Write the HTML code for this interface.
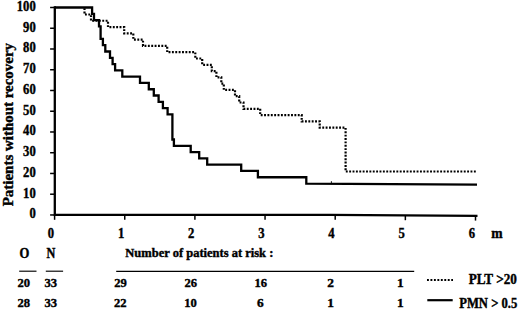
<!DOCTYPE html>
<html><head><meta charset="utf-8"><style>
html,body{margin:0;padding:0;background:#fff;width:520px;height:309px;overflow:hidden}
svg{display:block}
text{font-family:"Liberation Serif",serif;font-weight:bold;font-size:13px;fill:#000;stroke:#000;stroke-width:0.4px}
</style></head><body>
<svg width="520" height="309" viewBox="0 0 520 309">
<g stroke="#000" stroke-width="1.5" fill="none"><line x1="50.1" y1="214.96" x2="55" y2="214.96"/><line x1="50.1" y1="194.21" x2="55" y2="194.21"/><line x1="50.1" y1="173.47" x2="55" y2="173.47"/><line x1="50.1" y1="152.72" x2="55" y2="152.72"/><line x1="50.1" y1="131.98" x2="55" y2="131.98"/><line x1="50.1" y1="111.23" x2="55" y2="111.23"/><line x1="50.1" y1="90.48" x2="55" y2="90.48"/><line x1="50.1" y1="69.74" x2="55" y2="69.74"/><line x1="50.1" y1="48.99" x2="55" y2="48.99"/><line x1="50.1" y1="28.25" x2="55" y2="28.25"/><line x1="50.1" y1="7.50" x2="55" y2="7.50"/><line x1="54.60" y1="215" x2="54.60" y2="219.80"/><line x1="124.75" y1="215" x2="124.75" y2="219.80"/><line x1="194.90" y1="215" x2="194.90" y2="219.80"/><line x1="265.05" y1="215" x2="265.05" y2="219.80"/><line x1="335.20" y1="215" x2="335.20" y2="219.83"/><line x1="405.35" y1="215" x2="405.35" y2="220.21"/><line x1="475.50" y1="215" x2="475.50" y2="220.59"/></g>
<path d="M54.8 6.3 V216.1 M53.6 214.96 L330 214.96 L477.5 215.9" stroke="#000" stroke-width="2.3" fill="none"/>
<path d="M54.60 7.50 H92.10 V13.79 H94.00 V20.07 H99.00 V26.36 H100.60 V38.93 H102.90 V45.22 H105.30 V51.51 H110.00 V57.79 H112.60 V64.08 H115.10 V70.37 H122.30 V76.65 H140.00 V82.94 H148.80 V89.23 H153.80 V95.51 H158.60 V101.80 H162.90 V108.09 H167.60 V114.37 H172.40 V139.52 H173.90 V145.81 H190.70 V152.09 H199.20 V158.38 H207.20 V164.67 H241.20 V170.95 H257.90 V177.24 H306.30 V183.53 L477 184.6" stroke="#000" stroke-width="2.3" fill="none"/>
<path d="M84.50 8.20 H84.50 V14.49 H91.00 V20.77 H108.00 V27.06 H124.20 V33.35 H133.30 V39.63 H143.00 V45.92 H167.20 V52.21 H195.30 V58.49 H202.20 V64.78 H211.80 V71.07 H216.40 V77.35 H221.30 V83.64 H223.80 V89.93 H235.00 V96.21 H239.20 V102.50 H243.50 V108.79 H260.20 V115.07 H301.70 V121.36 H319.70 V127.65 H345.60 V171.50 H476.50" stroke="#000" stroke-width="2.2" fill="none" stroke-dasharray="1.9 1.47"/>
<line x1="331.4" y1="181.2" x2="331.4" y2="184" stroke="#000" stroke-width="0.9"/>
<g stroke="#000" stroke-width="1.15" fill="none">
<line x1="19.2" y1="271.2" x2="36.5" y2="271.2"/>
<line x1="45.8" y1="271.2" x2="63.1" y2="271.2"/>
<line x1="116.2" y1="271.3" x2="414.2" y2="271.3"/>
</g>
<line x1="427" y1="280" x2="453" y2="280" stroke="#000" stroke-width="2.2" stroke-dasharray="1.9 1.56"/>
<line x1="427.3" y1="300.2" x2="452.7" y2="300.2" stroke="#000" stroke-width="2.2"/>
<text transform="matrix(0.930 0 0 1 35.70 0)" x="0" y="218.46" text-anchor="end" style="font-size:13.60px">0</text><text transform="matrix(0.930 0 0 1 35.70 0)" x="0" y="197.71" text-anchor="end" style="font-size:13.60px">10</text><text transform="matrix(0.930 0 0 1 35.70 0)" x="0" y="176.97" text-anchor="end" style="font-size:13.60px">20</text><text transform="matrix(0.930 0 0 1 35.70 0)" x="0" y="156.22" text-anchor="end" style="font-size:13.60px">30</text><text transform="matrix(0.930 0 0 1 35.70 0)" x="0" y="135.48" text-anchor="end" style="font-size:13.60px">40</text><text transform="matrix(0.930 0 0 1 35.70 0)" x="0" y="114.73" text-anchor="end" style="font-size:13.60px">50</text><text transform="matrix(0.930 0 0 1 35.70 0)" x="0" y="93.98" text-anchor="end" style="font-size:13.60px">60</text><text transform="matrix(0.930 0 0 1 35.70 0)" x="0" y="73.24" text-anchor="end" style="font-size:13.60px">70</text><text transform="matrix(0.930 0 0 1 35.70 0)" x="0" y="52.49" text-anchor="end" style="font-size:13.60px">80</text><text transform="matrix(0.930 0 0 1 35.70 0)" x="0" y="31.75" text-anchor="end" style="font-size:13.60px">90</text><text transform="matrix(0.930 0 0 1 35.70 0)" x="0" y="11.00" text-anchor="end" style="font-size:13.60px">100</text>
<text transform="matrix(0.930 0 0 1 50.90 0)" x="0" y="237.60" text-anchor="middle" style="font-size:13.60px">0</text><text transform="matrix(0.930 0 0 1 121.05 0)" x="0" y="237.60" text-anchor="middle" style="font-size:13.60px">1</text><text transform="matrix(0.930 0 0 1 191.20 0)" x="0" y="237.60" text-anchor="middle" style="font-size:13.60px">2</text><text transform="matrix(0.930 0 0 1 261.35 0)" x="0" y="237.60" text-anchor="middle" style="font-size:13.60px">3</text><text transform="matrix(0.930 0 0 1 331.50 0)" x="0" y="237.60" text-anchor="middle" style="font-size:13.60px">4</text><text transform="matrix(0.930 0 0 1 401.65 0)" x="0" y="237.60" text-anchor="middle" style="font-size:13.60px">5</text><text transform="matrix(0.930 0 0 1 471.80 0)" x="0" y="237.60" text-anchor="middle" style="font-size:13.60px">6</text>
<text transform="matrix(1.000 0 0 1 491.30 0)" x="0" y="237.70" style="font-size:13.60px">m</text>
<text transform="translate(12.7,206.3) rotate(-90) scale(0.978,1)" style="font-size:15.3px">Patients without recovery</text>
<text transform="matrix(0.930 0 0 1 19.50 0)" x="0" y="257.60" style="font-size:13.60px">O</text>
<text transform="matrix(0.900 0 0 1 46.40 0)" x="0" y="257.60" style="font-size:13.60px">N</text>
<text x="125.3" y="257" style="font-size:12.5px">Number of patients at risk :</text>
<text transform="matrix(0.940 0 0 1 17.50 0)" x="0" y="286.60" style="font-size:13.40px">20</text>
<text transform="matrix(0.940 0 0 1 44.50 0)" x="0" y="286.60" style="font-size:13.40px">33</text>
<text transform="matrix(0.940 0 0 1 17.50 0)" x="0" y="306.60" style="font-size:13.40px">28</text>
<text transform="matrix(0.940 0 0 1 44.50 0)" x="0" y="306.60" style="font-size:13.40px">33</text>
<text transform="matrix(0.940 0 0 1 120.50 0)" x="0" y="286.60" text-anchor="middle" style="font-size:13.40px">29</text>
<text transform="matrix(0.940 0 0 1 190.80 0)" x="0" y="286.60" text-anchor="middle" style="font-size:13.40px">26</text>
<text transform="matrix(0.940 0 0 1 260.80 0)" x="0" y="286.60" text-anchor="middle" style="font-size:13.40px">16</text>
<text transform="matrix(1.000 0 0 1 330.50 0)" x="0" y="286.60" text-anchor="middle" style="font-size:13.40px">2</text>
<text transform="matrix(1.000 0 0 1 400.30 0)" x="0" y="286.60" text-anchor="middle" style="font-size:13.40px">1</text>
<text transform="matrix(0.940 0 0 1 120.20 0)" x="0" y="306.60" text-anchor="middle" style="font-size:13.40px">22</text>
<text transform="matrix(0.940 0 0 1 190.60 0)" x="0" y="306.60" text-anchor="middle" style="font-size:13.40px">10</text>
<text transform="matrix(1.000 0 0 1 260.40 0)" x="0" y="306.60" text-anchor="middle" style="font-size:13.40px">6</text>
<text transform="matrix(1.000 0 0 1 330.50 0)" x="0" y="306.60" text-anchor="middle" style="font-size:13.40px">1</text>
<text transform="matrix(1.000 0 0 1 400.30 0)" x="0" y="306.60" text-anchor="middle" style="font-size:13.40px">1</text>
<text transform="matrix(0.970 0 0 1 468.70 0)" x="0" y="283.60" style="font-size:13.60px">PLT &gt;20</text>
<text transform="matrix(0.930 0 0 1 459.20 0)" x="0" y="307.80" style="font-size:13.60px">PMN &gt; 0.5</text>
</svg>
</body></html>
